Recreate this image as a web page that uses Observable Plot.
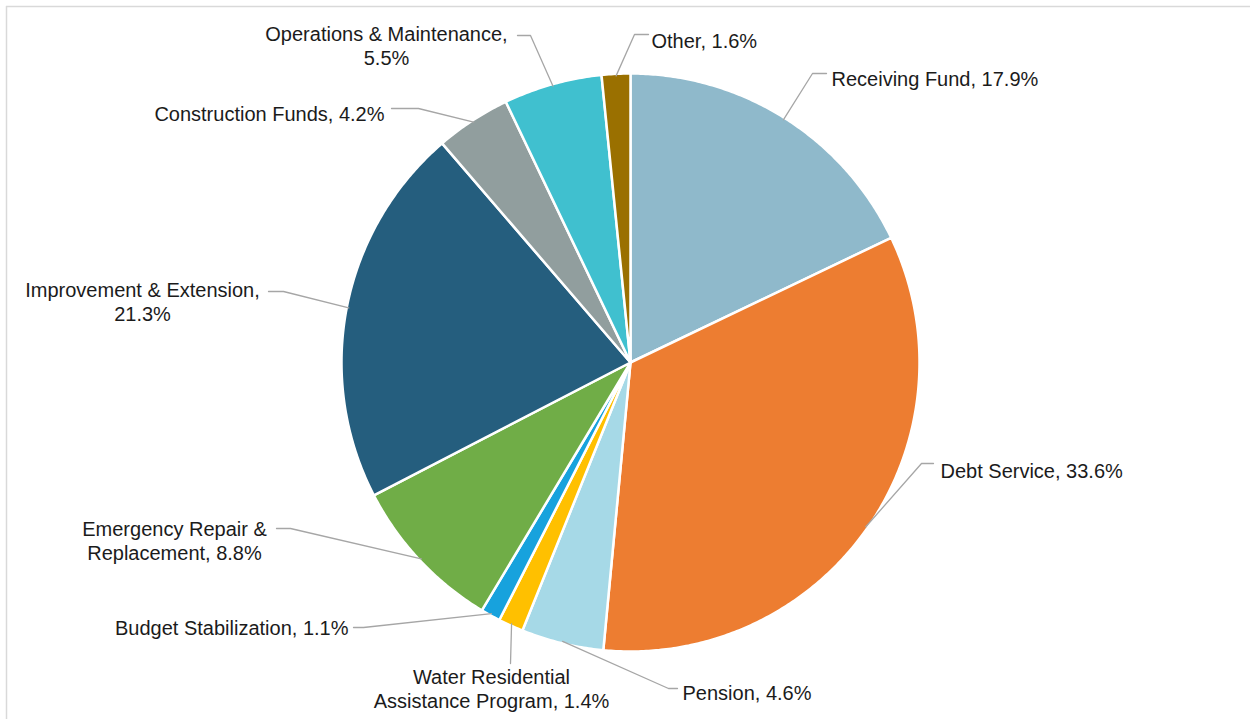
<!DOCTYPE html>
<html><head><meta charset="utf-8">
<script src="https://cdn.jsdelivr.net/npm/d3@7"></script>
<script src="https://cdn.jsdelivr.net/npm/@observablehq/plot@0.6"></script>
<style>
body{margin:0;background:#fff}
#chart svg{display:block;font-family:"Liberation Sans",Arial,sans-serif}
</style>
</head><body><div id="chart"></div>
<script>
// ---- data ----
const categories = ["Receiving Fund","Debt Service","Pension","Water Residential Assistance Program","Budget Stabilization","Emergency Repair & Replacement","Improvement & Extension","Construction Funds","Operations & Maintenance","Other"];
const shares = [17.9, 33.6, 4.6, 1.4, 1.1, 8.8, 21.3, 4.2, 5.5, 1.6];
const colors = ["#8FB9CB","#ED7D31","#A6D9E7","#FFC000","#17A2DD","#70AD47","#255E7E","#919E9E","#40C0CF","#9A7000"];

// ---- layout (pixels) ----
const W = 1250, H = 719;
const pie = {cx: 630, cy: 362, r: 289};
const labelBreak = {3: "Water Residential", 5: "Emergency Repair &", 6: "Improvement & Extension,", 8: "Operations & Maintenance,"};
const labelPos = [
  {x: 831, y: 78, anchor: "start"},
  {x: 940, y: 470, anchor: "start"},
  {x: 682, y: 692, anchor: "start"},
  {x: 491, y: 688, anchor: "middle"},
  {x: 348, y: 627, anchor: "end"},
  {x: 174, y: 540, anchor: "middle"},
  {x: 142, y: 301, anchor: "middle"},
  {x: 384, y: 113, anchor: "end"},
  {x: 386, y: 45, anchor: "middle"},
  {x: 651, y: 40, anchor: "start"}
];
const leaderElbows = [
  [[826,73],[812,73]],
  [[933,463],[921,463]],
  [[677,688],[668,688]],
  [[510,663]],
  [[353,627],[363,627]],
  [[276,528],[290,528]],
  [[268,291],[283,291]],
  [[391,108],[418,108]],
  [[517,35],[530,35]],
  [[648,34],[634,34]]
];

// ---- derived geometry ----
const total = d3.sum(shares);
const slices = [];
let acc = 0;
shares.forEach((v, i) => {
  const a0 = acc / total * 2 * Math.PI;
  acc += v;
  const a1 = acc / total * 2 * Math.PI;
  slices.push({i, name: categories[i], a0, a1, mid: (a0 + a1) / 2});
});
const pt = (a, r) => [pie.cx + r * Math.sin(a), pie.cy - r * Math.cos(a)];

const slicePts = [];
slices.forEach(s => {
  slicePts.push({k: s.name, x: pie.cx, y: pie.cy});
  const n = Math.max(4, Math.ceil((s.a1 - s.a0) / (Math.PI / 360)));
  for (let j = 0; j <= n; j++) {
    const [x, y] = pt(s.a0 + (s.a1 - s.a0) * j / n, pie.r);
    slicePts.push({k: s.name, x, y});
  }
  slicePts.push({k: s.name, x: pie.cx, y: pie.cy});
});

const leaderPts = [];
slices.forEach(s => {
  leaderElbows[s.i].forEach(([x, y]) => leaderPts.push({k: s.name, x, y}));
  const [ex, ey] = pt(s.mid, pie.r - 2);
  leaderPts.push({k: s.name, x: ex, y: ey});
});

const labels = slices.map(s => {
  let t = `${s.name}, ${shares[s.i].toFixed(1)}%`;
  const b = labelBreak[s.i];
  if (b) t = b + "\n" + t.slice(b.length).trim();
  return {text: t, ...labelPos[s.i]};
});

const textMark = anchor => Plot.text(labels.filter(d => d.anchor === anchor), {
  x: "x", y: "y", text: "text", textAnchor: anchor, lineAnchor: "middle",
  lineHeight: 1.2, fontSize: 20, fill: "#1b1b1b"
});

const chart = Plot.plot({
  width: W, height: H, margin: 0,
  x: {domain: [0, W], range: [0, W], axis: null},
  y: {domain: [0, H], range: [0, H], axis: null},
  style: {background: "#fff"},
  marks: [
    Plot.ruleY([6], {x1: 6, x2: W, stroke: "#d9d9d9", strokeWidth: 1.5}),
    Plot.ruleX([6], {y1: 6, y2: H, stroke: "#d9d9d9", strokeWidth: 1.5}),
    Plot.line(slicePts, {x: "x", y: "y", z: "k", fill: d => colors[categories.indexOf(d.k)], stroke: "#fff", strokeWidth: 2.5, strokeLinejoin: "round", curve: "linear"}),
    Plot.line(leaderPts, {x: "x", y: "y", z: "k", stroke: "#a6a6a6", strokeWidth: 1.3, curve: "linear"}),
    textMark("start"), textMark("end"), textMark("middle")
  ]
});
document.getElementById("chart").appendChild(chart);
</script>
</body></html>
